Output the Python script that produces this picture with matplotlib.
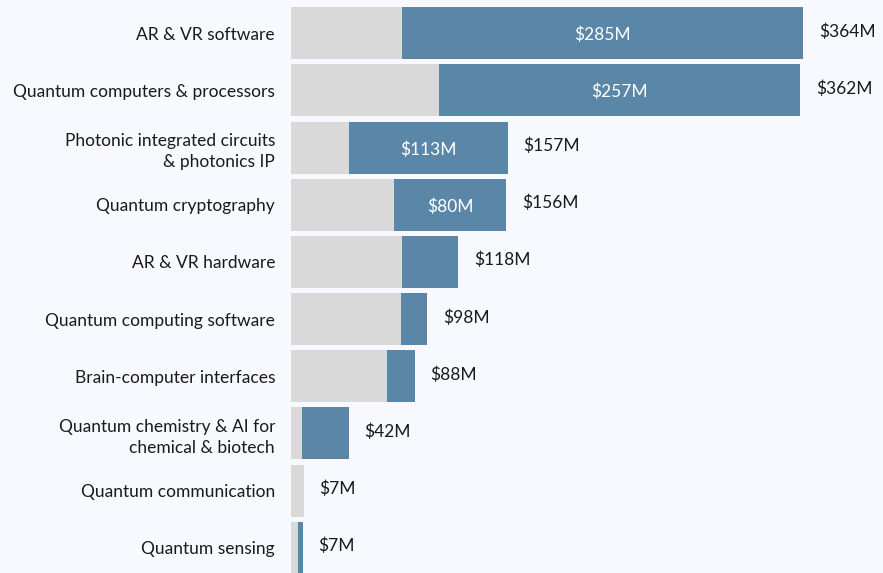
import numpy as np
import matplotlib.pyplot as plt

# -----------------------------
# DATA
# -----------------------------
categories = [
    "AR & VR software",
    "Quantum computers & processors",
    "Photonic integrated circuits\n& photonics IP",
    "Quantum cryptography",
    "AR & VR hardware",
    "Quantum computing software",
    "Brain-computer interfaces",
    "Quantum chemistry & AI for\nchemical & biotech",
    "Quantum communication",
    "Quantum sensing",
]
gray_part = [79, 105, 41, 73, 79, 78, 68, 8, 9, 5]
blue_part = [285, 257, 113, 80, 40, 19, 20, 33, 0, 3.5]
totals = [364, 362, 157, 156, 118, 98, 88, 42, 7, 7]
inside_labels = ["$285M", "$257M", "$113M", "$80M", "", "", "", "", "", ""]

# -----------------------------
# STYLE
# -----------------------------
BG = "#f7f9fe"
GRAY = "#d9d9d9"
BLUE = "#5a87a8"
TEXT = "#1a1a1a"
plt.rcParams["font.family"] = ["Lato", "DejaVu Sans"]

fig = plt.figure(figsize=(8.83, 5.73), dpi=100, facecolor=BG)
ax = fig.add_axes([291 / 883, 0, 592 / 883, 1])
ax.set_facecolor(BG)

y = np.arange(len(categories))
ax.barh(y, gray_part, height=0.91, color=GRAY)
ax.barh(y, blue_part, left=gray_part, height=0.91, color=BLUE)

for i in range(len(categories)):
    end = gray_part[i] + blue_part[i]
    ax.text(end + 11, y[i] - 0.03, f"${totals[i]}M", va="center", ha="left",
            fontsize=12.5, color=TEXT)
    if inside_labels[i]:
        ax.text(gray_part[i] + blue_part[i] / 2, y[i] + 0.03, inside_labels[i],
                va="center", ha="center", fontsize=12.5, color="white")

ax.set_xlim(0, 420.7)
ax.set_ylim(9.44, -0.58)
ax.set_yticks(y)
ax.set_yticklabels(categories, fontsize=12.5, color=TEXT, ha="right",
                   linespacing=1.4)
ax.tick_params(axis="y", length=0, pad=11.5)
ax.set_xticks([])
for s in ax.spines.values():
    s.set_visible(False)

plt.savefig("out.png", dpi=100, facecolor=BG)
